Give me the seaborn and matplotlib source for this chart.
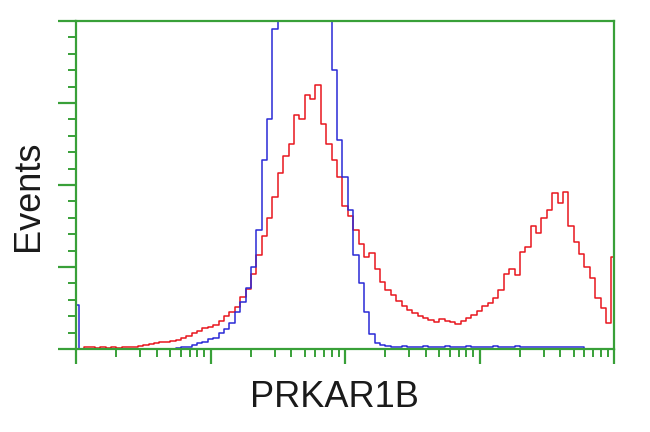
import numpy as np
import pandas as pd
import matplotlib
matplotlib.use("Agg")
import matplotlib.pyplot as plt
import matplotlib.ticker as mticker
import seaborn as sns

# ---- data (log10 bin centers 0..4, 101 bins; heights in arbitrary units 0..4) ----
log_centers = np.linspace(0, 4, 101)

control_blue = [
    0.54, 0.00, 0.00, 0.00, 0.00, 0.00, 0.00, 0.00, 0.00, 0.00,
    0.00, 0.00, 0.00, 0.00, 0.00, 0.00, 0.00, 0.00, 0.00, 0.01,
    0.02, 0.03, 0.05, 0.07, 0.09, 0.12, 0.14, 0.19, 0.24, 0.32,
    0.45, 0.57, 0.74, 1.00, 1.45, 2.30, 2.80, 3.90, 4.60, 5.20,
    5.60, 5.80, 5.90, 5.80, 5.60, 5.20, 4.60, 4.10, 3.40, 2.55,
    2.10, 1.70, 1.15, 0.80, 0.45, 0.18, 0.07, 0.05, 0.04, 0.03,
    0.02, 0.04, 0.03, 0.02, 0.03, 0.04, 0.02, 0.03, 0.02, 0.04,
    0.03, 0.02, 0.03, 0.04, 0.02, 0.03, 0.02, 0.03, 0.04, 0.02,
    0.03, 0.02, 0.04, 0.03, 0.02, 0.03, 0.02, 0.03, 0.02, 0.03,
    0.02, 0.03, 0.02, 0.02, 0.02, 0.00, 0.00, 0.00, 0.00, 0.00,
    0.00,
]

prkar1b_red = [
    0.00, 0.00, 0.02, 0.02, 0.01, 0.02, 0.01, 0.02, 0.01, 0.02,
    0.02, 0.03, 0.04, 0.05, 0.06, 0.07, 0.08, 0.09, 0.10, 0.11,
    0.14, 0.16, 0.19, 0.22, 0.26, 0.27, 0.29, 0.34, 0.40, 0.45,
    0.51, 0.63, 0.73, 0.92, 1.15, 1.38, 1.60, 1.85, 2.15, 2.35,
    2.50, 2.85, 2.80, 3.10, 3.05, 3.22, 2.75, 2.50, 2.30, 2.10,
    1.75, 1.62, 1.45, 1.28, 1.12, 1.17, 0.98, 0.82, 0.72, 0.66,
    0.58, 0.52, 0.47, 0.44, 0.40, 0.38, 0.35, 0.33, 0.36, 0.34,
    0.33, 0.31, 0.34, 0.38, 0.42, 0.46, 0.52, 0.56, 0.62, 0.72,
    0.92, 0.98, 0.90, 1.18, 1.24, 1.50, 1.42, 1.60, 1.70, 1.90,
    1.78, 1.92, 1.50, 1.30, 1.16, 1.00, 0.86, 0.62, 0.50, 0.32,
    1.12,
]

x_label = "PRKAR1B"
y_label = "Events"

# ---- build long table ----
fluor = 10 ** log_centers
df = pd.concat([
    pd.DataFrame({"fluor": fluor, "events": prkar1b_red, "sample": "PRKAR1B"}),
    pd.DataFrame({"fluor": fluor, "events": control_blue, "sample": "control"}),
], ignore_index=True)

sns.set_style("white")
plt.rcParams["font.family"] = ["Liberation Sans", "DejaVu Sans"]

fig = plt.figure(figsize=(6.5, 4.32), dpi=100)
ax = fig.add_axes([76 / 650, 1 - 349 / 432, 538 / 650, 328 / 432])

sns.lineplot(data=df, x="fluor", y="events", hue="sample",
             palette={"PRKAR1B": "#e8161e", "control": "#2a2ad6"},
             estimator=None, sort=False, legend=False, ax=ax,
             drawstyle="steps-mid", linewidth=1.1)

ax.set_xscale("log")
ax.set_xlim(1, 1e4)
ax.set_ylim(0, 4)

green = "#38a038"
for s in ax.spines.values():
    s.set_visible(True)
    s.set_color(green)
    s.set_linewidth(1.6)

ax.xaxis.set_major_locator(mticker.LogLocator(base=10, numticks=10))
ax.xaxis.set_minor_locator(mticker.LogLocator(base=10, subs=np.arange(2, 10), numticks=20))
ax.yaxis.set_major_locator(mticker.MultipleLocator(1))
ax.yaxis.set_minor_locator(mticker.MultipleLocator(0.2))
ax.xaxis.set_major_formatter(mticker.NullFormatter())
ax.xaxis.set_minor_formatter(mticker.NullFormatter())
ax.yaxis.set_major_formatter(mticker.NullFormatter())

ax.tick_params(axis="x", which="major", direction="out", length=11, width=1.6,
               color=green, bottom=True, top=False)
ax.tick_params(axis="x", which="minor", direction="out", length=5.5, width=1.4,
               color=green, bottom=True, top=False)
ax.tick_params(axis="y", which="major", direction="out", length=13, width=1.6,
               color=green, left=True, right=False)
ax.tick_params(axis="y", which="minor", direction="out", length=6, width=1.4,
               color=green, left=True, right=False)

ax.set_xlabel(x_label, fontsize=26, color="#1a1a1a")
ax.set_ylabel(y_label, fontsize=26, color="#1a1a1a")
ax.xaxis.set_label_coords(0.481, -0.093)
ax.yaxis.set_label_coords(-0.055, 0.466)

fig.savefig("out.png", dpi=100, facecolor="white")
